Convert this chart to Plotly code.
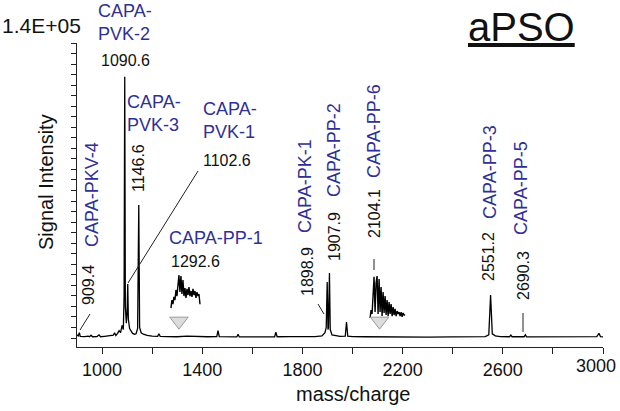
import plotly.graph_objects as go

# ---------------- data ----------------
spec_mz = [900, 905, 909.4, 913, 930, 945, 950, 956, 962, 980, 988, 994, 1010, 1030, 1045, 1050,
           1055, 1062, 1068, 1074, 1080, 1085, 1088, 1090.6, 1093, 1097, 1100, 1102.6, 1105, 1110,
           1116, 1122, 1130, 1136, 1142, 1146.6, 1150, 1156, 1165, 1180, 1200, 1222, 1227, 1232,
           1260, 1300, 1340, 1380, 1420, 1458, 1463, 1468, 1500, 1538, 1543, 1548, 1600, 1650,
           1689, 1694, 1699, 1750, 1800, 1850, 1878, 1890, 1895, 1898.9, 1902, 1904, 1907.9, 1911,
           1918, 1930, 1950, 1971, 1976, 1981, 2000, 2050, 2100, 2200, 2300, 2400, 2480, 2530,
           2544, 2551.2, 2558, 2570, 2590, 2627, 2632, 2637, 2685, 2690.3, 2695, 2750, 2850, 2930,
           2975, 2984, 2990, 3000]
spec_int = [1500, 1000, 2500, 800, 700, 900, 600, 1300, 600, 700, 1500, 600, 800, 900, 1300, 2500,
            1200, 2200, 3500, 2500, 6000, 4000, 20000, 124000, 15000, 7000, 12000, 25600, 9000, 4500,
            3500, 2200, 1800, 2000, 4500, 63100, 5000, 2500, 1800, 1200, 900, 800, 2000, 800,
            700, 600, 900, 700, 600, 700, 3500, 700, 600, 500, 1800, 500, 500, 600,
            600, 2800, 600, 700, 600, 700, 1000, 2500, 5000, 26600, 4000, 5000, 30800, 4000,
            1500, 1200, 800, 900, 7600, 900, 700, 600, 500, 500, 400, 500, 500, 700,
            1500, 20400, 2000, 1000, 700, 600, 1400, 600, 600, 1500, 500, 500, 500, 600,
            700, 2200, 600, 500]

# zoomed insets (drawn inside the spectrum)
inset1_mz = [1275, 1279, 1283, 1287, 1291, 1295, 1299, 1303, 1307, 1311, 1315, 1319, 1323, 1327, 1331,
             1335, 1339, 1343, 1347, 1351, 1355, 1359, 1363, 1367, 1371, 1375, 1379, 1383, 1387, 1391]
inset1_int = [14200, 18000, 16100, 19500, 18000, 22800, 19900, 27500, 29900, 21800, 29400, 20900, 27500,
              19900, 23700, 19000, 23300, 20400, 24200, 19900, 22300, 19500, 23300, 20400, 22300, 19000,
              21800, 19900, 20900, 16000]
inset2_mz = [2070, 2074, 2078, 2082, 2086, 2090, 2094, 2098, 2102, 2106, 2110, 2114, 2118, 2122, 2126,
             2130, 2134, 2138, 2142, 2146, 2150, 2154, 2158, 2162, 2166, 2170, 2174, 2178, 2182, 2186,
             2190, 2194, 2198, 2202, 2206, 2210]
inset2_int = [9500, 13300, 11400, 18000, 29000, 12300, 26100, 29400, 11400, 28000, 12300, 24200, 10400,
              21800, 11900, 19900, 10900, 18000, 10400, 17100, 11400, 16100, 10400, 14700, 10900, 13800,
              10400, 12800, 11400, 12300, 10400, 12300, 10000, 11900, 10900, 10900]

marker_mz = [1307, 2108]
marker_int = [8000, 8000]

peak_labels = ["909.4", "1090.6", "1102.6", "1146.6", "1292.6", "1898.9", "1907.9", "2104.1", "2551.2", "2690.3"]
peptide_names = ["CAPA-PKV-4", "CAPA-PVK-2", "CAPA-PVK-1", "CAPA-PVK-3", "CAPA-PP-1", "CAPA-PK-1",
                 "CAPA-PP-2", "CAPA-PP-6", "CAPA-PP-3", "CAPA-PP-5"]

x_ticks = list(range(1000, 3001, 200))
x_labelled = [v for v in x_ticks if (v - 1000) % 400 == 0]
# the last label sits at the page edge; it is drawn separately so it stays inside
x_ticktext = [str(v) if (v in x_labelled and v != x_labelled[-1]) else "" for v in x_ticks]
y_ticks = list(range(0, 140001, 5000))

# ---------------- layout geometry (pixels) ----------------
W, H = 620, 411
L, R, T, B = 77, 603, 43, 347
FONT = "Liberation Sans, Arial, sans-serif"
BLUE = "#2f2f96"
BLACK = "#111111"


def px(xp):
    return (xp - L) / (R - L)


def py(yp):
    return (B - yp) / (B - T)


fig = go.Figure()
fig.add_trace(go.Scatter(x=spec_mz, y=spec_int, mode="lines",
                         line=dict(color="black", width=1.3), hoverinfo="skip"))
fig.add_trace(go.Scatter(x=inset1_mz, y=inset1_int, mode="lines",
                         line=dict(color="black", width=1.4), hoverinfo="skip"))
fig.add_trace(go.Scatter(x=inset2_mz, y=inset2_int, mode="lines",
                         line=dict(color="black", width=1.4), hoverinfo="skip"))
fig.add_trace(go.Scatter(x=marker_mz, y=marker_int, mode="markers",
                         marker=dict(symbol="triangle-down", size=16, color="#dcdcdc",
                                     line=dict(color="#9a9a9a", width=1)), hoverinfo="skip"))

ann = []


def label(text, cx, cy, angle=0, color=BLACK, size=16, xanchor="center"):
    ann.append(dict(text=text, x=px(cx), y=py(cy), xref="paper", yref="paper",
                    xanchor=xanchor, yanchor="middle", textangle=angle, showarrow=False,
                    align="left", font=dict(family=FONT, size=size, color=color)))


pl = dict(zip(peak_labels, peak_labels))
pn = dict(zip(peptide_names, peptide_names))

# horizontal labels
label(pn["CAPA-PVK-2"].replace("-", "-<br>", 1), 96, 22, color=BLUE, size=18, xanchor="left")
label(pl["1090.6"], 125, 60)
label(pn["CAPA-PVK-3"].replace("-", "-<br>", 1), 125, 113, color=BLUE, size=18, xanchor="left")
label(pn["CAPA-PVK-1"].replace("-", "-<br>", 1), 201, 120, color=BLUE, size=18, xanchor="left")
label(pl["1102.6"], 201, 160, xanchor="left")
label(pn["CAPA-PP-1"], 216, 238, color=BLUE, size=18)
label(pl["1292.6"], 195, 261)

# rotated labels
label(pn["CAPA-PKV-4"], 92, 195, -90, BLUE, 18)
label(pl["909.4"], 88, 285, -90)
label(pl["1146.6"], 138, 168, -90)
label(pn["CAPA-PK-1"], 305, 186, -90, BLUE, 18)
label(pl["1898.9"], 307, 272, -90)
label(pn["CAPA-PP-2"], 334, 150, -90, BLUE, 18)
label(pl["1907.9"], 335, 237, -90)
label(pn["CAPA-PP-6"], 374, 131, -90, BLUE, 18)
label(pl["2104.1"], 374, 214, -90)
label(pn["CAPA-PP-3"], 490, 172, -90, BLUE, 18)
label(pl["2551.2"], 488, 257, -90)
label(pn["CAPA-PP-5"], 521, 188, -90, BLUE, 18)
label(pl["2690.3"], 523, 276, -90)

# axis texts
label("1.4E+05", 41, 26, size=21)
label("Signal Intensity", 46, 182, -90, size=20)
label("mass/charge", 353, 394, size=20)
label("<u>aPSO</u>", 521, 27, size=40, color="#111111")

# last x tick label, kept inside the page
ann.append(dict(text=str(x_labelled[-1]), x=x_labelled[-1], xref="x", y=py(366), yref="paper",
                xanchor="right", yanchor="middle", xshift=15, showarrow=False,
                font=dict(family=FONT, size=18, color=BLACK)))

shapes = []


def seg(x0, y0, x1, y1):
    shapes.append(dict(type="line", xref="paper", yref="paper", x0=px(x0), y0=py(y0),
                       x1=px(x1), y1=py(y1), line=dict(color="#222222", width=1)))


seg(80, 330, 90, 314)
seg(128, 283, 198, 171)
seg(318, 304, 324, 314)
seg(374, 259, 374, 270)
seg(523, 313, 523, 332)

fig.update_layout(
    width=W, height=H,
    margin=dict(l=L, r=W - R, t=T, b=H - B, pad=0, autoexpand=False),
    paper_bgcolor="white", plot_bgcolor="white",
    showlegend=False,
    annotations=ann, shapes=shapes,
    font=dict(family=FONT, color=BLACK),
    xaxis=dict(range=[900, 3000], showgrid=False, zeroline=False, showline=True,
               linecolor="#222222", linewidth=1, ticks="outside", ticklen=6, tickwidth=1,
               tickcolor="#222222", tickmode="array", tickvals=x_ticks, ticktext=x_ticktext,
               ticklabeloverflow="allow", automargin=False,
               tickfont=dict(size=18, family=FONT, color=BLACK)),
    yaxis=dict(range=[-4270, 140000], showgrid=False, zeroline=False, showline=True,
               linecolor="#222222", linewidth=1, ticks="outside", ticklen=5, tickwidth=1,
               tickcolor="#222222", tickmode="array", tickvals=y_ticks, showticklabels=False,
               automargin=False),
)

fig.write_html("out.html")
